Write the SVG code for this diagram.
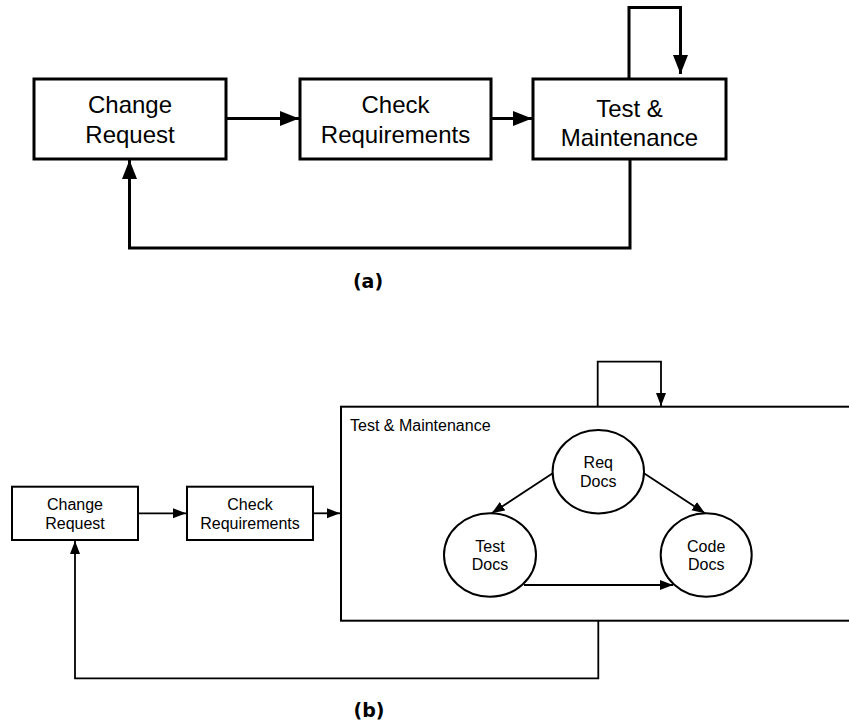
<svg xmlns="http://www.w3.org/2000/svg" width="849" height="723" viewBox="0 0 849 723">
<style>
text{font-family:"Liberation Sans",Arial,sans-serif;fill:#000;text-anchor:middle}
.big{font-size:24px}
.sm{font-size:16px}
.boxA{fill:#fff;stroke:#000;stroke-width:3}
.boxB{fill:#fff;stroke:#000;stroke-width:2}
.lnA{fill:none;stroke:#000;stroke-width:3}
.lnB{fill:none;stroke:#000;stroke-width:1.8}
.cap{font-family:"DejaVu Sans",sans-serif;font-size:19px;font-weight:bold}
</style>
<defs>
<marker id="ahA" markerUnits="userSpaceOnUse" markerWidth="20" markerHeight="16" refX="19" refY="7.5" orient="auto">
<path d="M0,0 L19,7.5 L0,15 Z" fill="#000"/>
</marker>
<marker id="ahB" markerUnits="userSpaceOnUse" markerWidth="14" markerHeight="12" refX="13" refY="5" orient="auto">
<path d="M0,0 L13,5 L0,10 Z" fill="#000"/>
</marker>
</defs>
<rect width="849" height="723" fill="#fff"/>

<g id="a-change-request">
<rect class="boxA" x="34" y="79" width="192" height="80"/>
<text class="big" x="130" y="113">Change</text>
<text class="big" x="130" y="143">Request</text>
</g>
<g id="a-check-requirements">
<rect class="boxA" x="300" y="79" width="191" height="80"/>
<text class="big" x="395.5" y="113">Check</text>
<text class="big" x="395.5" y="143">Requirements</text>
</g>
<g id="a-test-maintenance">
<rect class="boxA" x="533" y="79" width="193" height="80"/>
<text class="big" x="629.5" y="117">Test &amp;</text>
<text class="big" x="629.5" y="146">Maintenance</text>
</g>
<text class="cap" x="368" y="288">(a)</text>

<g id="b-change-request">
<rect class="boxB" x="12" y="486.7" width="126" height="53.3"/>
<text class="sm" x="75" y="510">Change</text>
<text class="sm" x="75" y="529">Request</text>
</g>
<g id="b-check-requirements">
<rect class="boxB" x="187" y="486.7" width="126" height="53.3"/>
<text class="sm" x="250" y="510">Check</text>
<text class="sm" x="250" y="529">Requirements</text>
</g>
<g id="b-test-maintenance">
<rect class="boxB" x="341" y="406.7" width="520" height="214"/>
<text class="sm" x="350" y="430.7" style="text-anchor:start">Test &amp; Maintenance</text>
</g>
<g id="b-req-docs">
<ellipse class="boxB" cx="598.3" cy="471.7" rx="45.7" ry="41.7"/>
<text class="sm" x="598.3" y="468.3">Req</text>
<text class="sm" x="598.3" y="486.7">Docs</text>
</g>
<g id="b-test-docs">
<ellipse class="boxB" cx="490" cy="555" rx="46" ry="41.7"/>
<text class="sm" x="490" y="551.7">Test</text>
<text class="sm" x="490" y="570">Docs</text>
</g>
<g id="b-code-docs">
<ellipse class="boxB" cx="706.2" cy="555" rx="45.5" ry="41.7"/>
<text class="sm" x="706.2" y="551.7">Code</text>
<text class="sm" x="706.2" y="570">Docs</text>
</g>
<text class="cap" x="369" y="716.7">(b)</text>

<g id="connectors">
<path class="lnA" d="M226,118.5 H299" marker-end="url(#ahA)"/>
<path class="lnA" d="M491,118.5 H532" marker-end="url(#ahA)"/>
<path class="lnA" d="M629,79 V7.5 H680.5 V74" marker-end="url(#ahA)"/>
<path class="lnA" d="M630,159 V248 H129.5 V160" marker-end="url(#ahA)"/>

<path class="lnB" d="M138,513.3 H186" marker-end="url(#ahB)"/>
<path class="lnB" d="M313,513.3 H340" marker-end="url(#ahB)"/>
<path class="lnB" d="M597.7,406.7 V361.7 H661 V406" marker-end="url(#ahB)"/>
<path class="lnB" d="M598.3,620.7 V678.3 H75 V541" marker-end="url(#ahB)"/>
<path class="lnB" d="M552.7,473.3 L491.7,513.3" marker-end="url(#ahB)"/>
<path class="lnB" d="M644,473.3 L705,513.3" marker-end="url(#ahB)"/>
<path class="lnB" d="M524,585 H673" marker-end="url(#ahB)"/>
</g>
</svg>
